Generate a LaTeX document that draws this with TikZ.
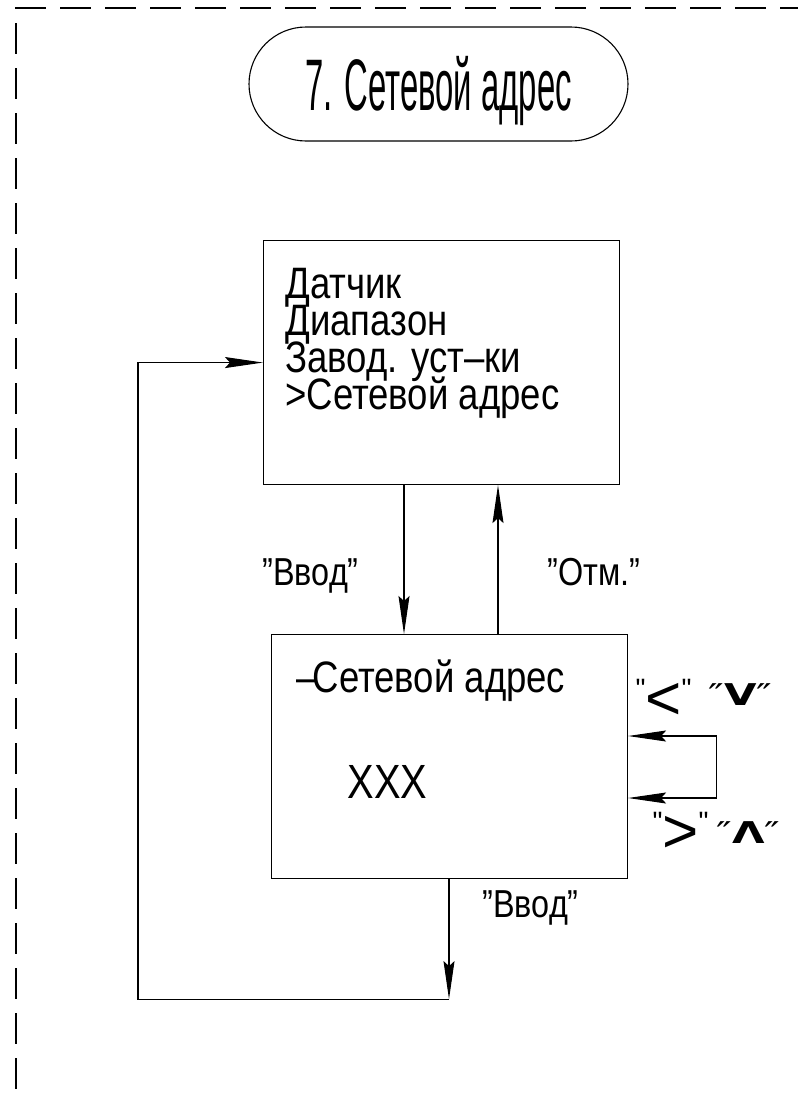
\documentclass[tikz,border=0pt]{standalone}
\usepackage{fontspec}
\setmainfont{Liberation Sans}[FakeStretch=0.83]
\newfontfamily\titlefont{Liberation Sans}[FakeStretch=0.45]
\newfontfamily\keyfont{Liberation Sans}
\newfontfamily\symfont{DejaVu Sans}[FakeStretch=1.4]
\usetikzlibrary{arrows.meta,positioning}
\newcommand{\qmark}{\raisebox{21pt}{\fontsize{28}{28}\selectfont"}}

\begin{document}
\begin{tikzpicture}[x=1pt, y=-1pt, line width=1.1pt,
    >={Stealth[length=38pt, width=11pt, inset=5pt]},
    box/.style={draw, rectangle, inner sep=0pt, anchor=north west},
    line/.style={anchor=base west, inner sep=0pt, text height=33pt, text depth=3pt,
        font=\fontsize{44}{44}\selectfont},
    key/.style={anchor=base west, inner sep=0pt, font=\fontsize{39}{39}\selectfont},
    sym/.style={anchor=base west, inner sep=0pt, font=\keyfont\fontsize{62}{62}\selectfont},
    bsym/.style={anchor=base west, inner sep=0pt, font=\symfont\fontsize{30}{30}\selectfont},
    frame/.style={line width=1.6pt, dash pattern=on 31pt off 14pt}]
    \useasboundingbox (0,0) rectangle (798,1095);

    % sheet border
    \draw[frame] (15,8) -- (798,8);
    \draw[frame] (16,23) -- (16,1095);

    \node[draw, rounded corners=57pt, minimum width=379pt, minimum height=114pt,
        inner sep=0pt, text height=52pt, text depth=0pt,
        font=\titlefont\fontsize{73}{73}\selectfont] (title) at (438.5,84) {7. Сетевой адрес};

    % menu screen
    \node[box, minimum width=356pt, minimum height=244pt] (menu) at (263,240) {};
    \foreach \txt [count=\i] in {Датчик, Диапазон, Завод. уст–ки, >Сетевой адрес}
        \node[line] (m\i) at (285, 261+37*\i) {\txt};

    % address screen
    \node[box, minimum width=356pt, minimum height=244pt] (addr) at (271,634) {};
    \node[line] (atitle) at (296,692) {–\kern-4ptСетевой адрес};
    \node[line, font=\fontsize{48}{48}\selectfont] (val) at (347,798) {XXX};

    % keys
    \node[key] (kin) at (262,585) {"Ввод"};
    \node[key] (kesc) at (547,585) {"Отм."};
    \node[key] (kok) at (482,917) {"Ввод"};
    \node[sym] (kleft) at (635,719) {\qmark<\qmark};
    \node[bsym] (kdown) at (708,705) {″\textbf{V}″};
    \node[sym] (kright) at (652,852) {\qmark>\qmark};
    \node[bsym] (kup) at (716,843) {″\textbf{Λ}″};

    \draw[->] ([xshift=141pt]menu.south west) -- ([xshift=133pt]addr.north west);
    \draw[->] ([xshift=227pt]addr.north west) -- ([xshift=235pt]menu.south west);
    \draw[<->] ([yshift=-102pt]addr.north east) -- ++(88pt,0) -- ++(0,-62pt)
        -- ([yshift=-164pt]addr.north east);

    \coordinate (ret) at ([xshift=178pt, yshift=-120pt]addr.south west);
    \draw[->] ([xshift=178pt]addr.south west) -- (ret);
    \draw[->] (ret) -- ++(-311pt,0) |- (menu.west);
\end{tikzpicture}
\end{document}
